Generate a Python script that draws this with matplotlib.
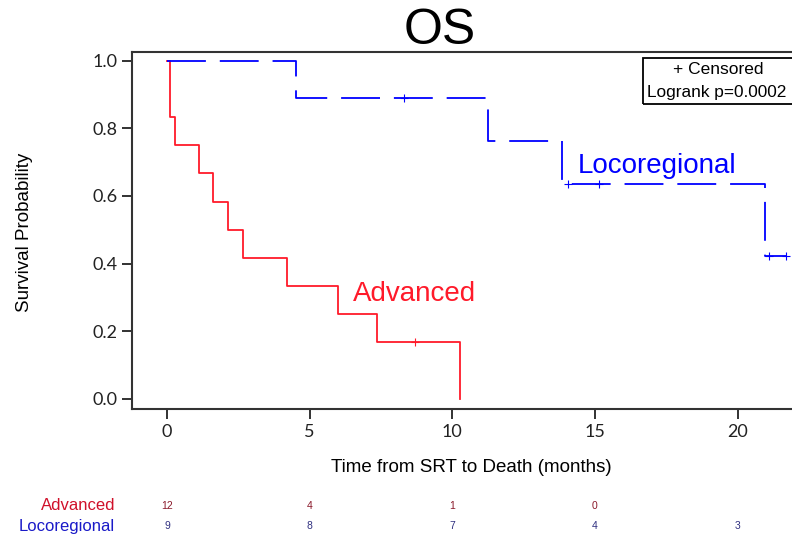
import matplotlib
matplotlib.use("Agg")
import matplotlib.pyplot as plt
from matplotlib.patches import Rectangle

# Kaplan-Meier steps (months, survival)
adv_times = [0.0, 0.12, 0.28, 1.12, 1.6, 2.13, 2.65, 4.2, 5.98, 7.37, 10.28]
adv_surv = [1.0, 0.833, 0.75, 0.667, 0.583, 0.5, 0.417, 0.333, 0.25, 0.167, 0.0]
adv_cens_t = [8.7]
adv_cens_s = [0.167]

loco_times = [0.0, 4.53, 11.24, 13.85, 20.96, 21.7]
loco_surv = [1.0, 0.889, 0.762, 0.635, 0.423, 0.423]
loco_cens_t = [8.3, 14.06, 15.14, 21.1, 21.7]
loco_cens_s = [0.889, 0.635, 0.635, 0.423, 0.423]

risk_times = [0, 5, 10, 15, 20]
adv_risk = ['12', '4', '1', '0', '']
loco_risk = ['9', '8', '7', '4', '3']

W, H = 792, 537
plt.rcParams['font.family'] = ['Liberation Sans', 'DejaVu Sans']
plt.rcParams['lines.scale_dashes'] = False

fig = plt.figure(figsize=(W / 100, H / 100), dpi=100)

def fx(px):
    return px / W

def fy(py):
    return 1 - py / H

# axes box in pixels: left 132, right off the picture, top 52, bottom 409
left, right, top, bottom = 132, 810, 52, 409
ax = fig.add_axes([fx(left), fy(bottom), (right - left) / W, (bottom - top) / H])
x0, xs = 167, 28.53       # pixel of t=0, pixels per month
y0, ys = 398.5, 337.5     # pixel of S=0, pixels per unit
ax.set_xlim((left - x0) / xs, (right - x0) / xs)
ax.set_ylim((y0 - bottom) / ys, (y0 - top) / ys)

red = '#ff1a2a'
blue = '#0000ff'

ax.step(adv_times, adv_surv, where='post', color=red, lw=1.3)
ax.plot(adv_cens_t, adv_cens_s, ls='none', marker='+', color=red, ms=6, mew=0.8)
ax.step(loco_times, loco_surv, where='post', color=blue, lw=1.3,
        ls=(0, (28, 10)))
ax.plot(loco_cens_t, loco_cens_s, ls='none', marker='+', color=blue, ms=6, mew=0.8)

ax.text(6.5, 0.31, 'Advanced', color=red, fontsize=20, va='center', ha='left')
ax.text(14.4, 0.69, 'Locoregional', color=blue, fontsize=20, va='center', ha='left')

ax.set_xticks([0, 5, 10, 15, 20])
ax.set_yticks([0.0, 0.2, 0.4, 0.6, 0.8, 1.0])
ax.set_yticklabels(['0.0', '0.2', '0.4', '0.6', '0.8', '1.0'])
ax.tick_params(direction='out', length=7, width=1.3, labelsize=13, colors='#222222')
for lab in ax.get_xticklabels() + ax.get_yticklabels():
    lab.set_fontfamily(['Lato', 'DejaVu Sans'])
for sp in ax.spines.values():
    sp.set_linewidth(1.5)
    sp.set_color('#333333')

fig.text(fx(471), fy(467), 'Time from SRT to Death (months)', fontsize=13.5,
         ha='center', va='center')
fig.text(fx(25), fy(232), 'Survival Probability', fontsize=13.5, rotation=90,
         ha='center', va='center')

fig.text(fx(440), fy(31), 'OS', fontsize=36, ha='center', va='center')

# censor / logrank box
fig.patches.append(Rectangle((fx(643), fy(104)), fx(800 - 643), (104 - 58) / H,
                             transform=fig.transFigure, fill=False, lw=1.3,
                             edgecolor='black'))
fig.text(fx(718), fy(70), '+ Censored', fontsize=12.5, ha='center', va='center')
fig.text(fx(647), fy(92), 'Logrank p=0.0002', fontsize=12.4, ha='left', va='center')

# numbers at risk
fig.text(fx(115), fy(506), 'Advanced', fontsize=12, color='#d0102a',
         ha='right', va='center')
fig.text(fx(115), fy(526), 'Locoregional', fontsize=12, color='#1a1ac8',
         ha='right', va='center')
for t, a, l in zip(risk_times, adv_risk, loco_risk):
    px = x0 + t * xs
    fig.text(fx(px), fy(506), a, fontsize=7.5, color='#8b1a2b', ha='center', va='center')
    fig.text(fx(px), fy(526), l, fontsize=7.5, color='#303080', ha='center', va='center')

fig.savefig('out.png', dpi=100)
